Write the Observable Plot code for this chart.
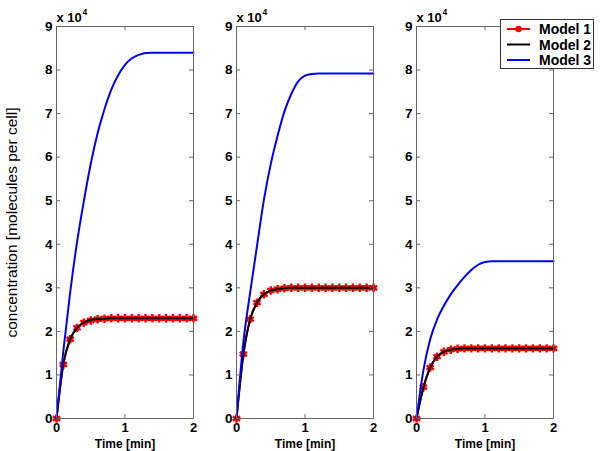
<!DOCTYPE html>
<html><head><meta charset="utf-8">
<script src="https://cdn.jsdelivr.net/npm/d3@7"></script>
<script src="https://cdn.jsdelivr.net/npm/@observablehq/plot@0.6"></script>
<style>
body{margin:0;background:#fff;}
#chart{position:relative;width:600px;height:451px;font-family:"Liberation Sans",Arial,Helvetica,sans-serif;background:#fff;overflow:hidden;}
.panel{position:absolute;top:0;}
#legend{position:absolute;left:500px;top:19px;}
</style></head><body><div id="chart"></div>
<script>
// Time points [min]
const time = [0,0.1,0.2,0.3,0.4,0.5,0.6,0.7,0.8,0.9,1.0,1.1,1.2,1.3,1.4,1.5,1.6,1.7,1.8,1.9,2.0];
const xTicks = [0,1,2];
const yTicks = [0,1,2,3,4,5,6,7,8,9];
const seriesNames = ["Model 1","Model 2","Model 3"];
const seriesColors = ["#ff0000","#000000","#0000ff"];

// concentrations in units of 10^4 molecules per cell
// Panel A
const m1A = [0,1.24,1.82,2.08,2.2,2.25,2.28,2.29,2.3,2.3,2.3,2.3,2.3,2.3,2.3,2.3,2.3,2.3,2.3,2.3,2.3];
const m2A = [0,1.26,1.82,2.08,2.2,2.26,2.28,2.29,2.3,2.3,2.3,2.3,2.3,2.3,2.3,2.3,2.3,2.3,2.3,2.3,2.3];
const m3A = [0,1.55,2.9,4.05,5.0,5.85,6.55,7.1,7.55,7.88,8.12,8.27,8.35,8.39,8.4,8.4,8.4,8.4,8.4,8.4,8.4];
// Panel B
const m1B = [0,1.48,2.28,2.66,2.85,2.94,2.97,2.99,3.0,3.0,3.0,3.0,3.0,3.0,3.0,3.0,3.0,3.0,3.0,3.0,3.0];
const m2B = [0,1.46,2.28,2.66,2.85,2.94,2.97,2.99,3.0,3.0,3.0,3.0,3.0,3.0,3.0,3.0,3.0,3.0,3.0,3.0,3.0];
const m3B = [0,1.75,2.9,3.97,5.02,5.84,6.49,7.05,7.45,7.74,7.87,7.91,7.92,7.92,7.92,7.92,7.92,7.92,7.92,7.92,7.92];
// Panel C
const m1C = [0,0.72,1.17,1.42,1.53,1.58,1.6,1.61,1.61,1.61,1.61,1.61,1.61,1.61,1.61,1.61,1.61,1.61,1.61,1.61,1.61];
const m2C = [0,0.7,1.17,1.42,1.53,1.58,1.6,1.61,1.61,1.61,1.61,1.61,1.61,1.61,1.61,1.61,1.61,1.61,1.61,1.61,1.61];
const m3C = [0,1.1,1.82,2.27,2.59,2.85,3.06,3.25,3.41,3.53,3.595,3.61,3.61,3.61,3.61,3.61,3.61,3.61,3.61,3.61,3.61];

const FONT = '"Liberation Sans",Arial,Helvetica,sans-serif';
const frameColor = "#666";
const rows = v => time.map((t,i) => ({t, v: v[i]}));

function panel(m1, m2, m3, {left, marginLeft, yLabel}) {
  const width = marginLeft + 137 + 1;
  const marks = [
    Plot.lineY(rows(m1), {x:"t", y:"v", stroke: seriesColors[0], strokeWidth: 2, curve: "monotone-x"}),
    Plot.dot(rows(m1), {x:"t", y:"v", r: 2.8, fill: seriesColors[0], stroke: "none"}),
    Plot.dot(rows(m1), {x:"t", y:"v", symbol:"asterisk", stroke: seriesColors[0], strokeWidth: 2.4, r: 4}),
    Plot.lineY(rows(m2), {x:"t", y:"v", stroke: seriesColors[1], strokeWidth: 2, curve: "monotone-x"}),
    Plot.lineY(rows(m3), {x:"t", y:"v", stroke: seriesColors[2], strokeWidth: 2, curve: "monotone-x"}),
    Plot.frame({stroke: frameColor}),
    Plot.tickY(yTicks, {stroke: frameColor, insetRight: 133}),
    Plot.tickY(yTicks, {stroke: frameColor, insetLeft: 133}),
    Plot.tickX(xTicks, {stroke: frameColor, insetTop: 388}),
    Plot.tickX(xTicks, {stroke: frameColor, insetBottom: 388}),
    Plot.axisY(yTicks, {tickSize: 0, tickPadding: 4, label: null, fontSize: 13.5}),
    Plot.axisX(xTicks, {tickSize: 0, tickPadding: 4, label: null, fontSize: 13}),
    Plot.text(["x 10"], {frameAnchor: "top-left", dx: 0, dy: -5, lineAnchor: "bottom", textAnchor: "start", fontSize: 13}),
    Plot.text(["4"], {frameAnchor: "top-left", dx: 26, dy: -12, lineAnchor: "bottom", textAnchor: "start", fontSize: 8.5}),
    Plot.text(["Time [min]"], {frameAnchor: "bottom", dy: 25.5, lineAnchor: "middle", fontSize: 12})
  ];
  if (yLabel) marks.push(Plot.text([yLabel], {frameAnchor: "left", textAnchor: "middle", rotate: -90, dx: -44, fontWeight: "normal", fontSize: 15.5}));
  const svg = Plot.plot({
    width, height: 451,
    marginLeft, marginRight: 1, marginTop: 26, marginBottom: 33,
    x: {domain: [0, 2], label: null},
    y: {domain: [0, 9], label: null},
    style: {fontFamily: FONT, fontSize: "13px", fontWeight: "bold", color: "#000", background: "transparent", overflow: "visible"},
    marks
  });
  svg.classList.add("panel");
  svg.style.left = left + "px";
  svg.style.position = "absolute";
  svg.style.top = "0px";
  return svg;
}

const chart = document.getElementById("chart");
chart.appendChild(panel(m1A, m2A, m3A, {left: 0, marginLeft: 56, yLabel: "concentration [molecules per cell]"}));
chart.appendChild(panel(m1B, m2B, m3B, {left: 194, marginLeft: 42}));
chart.appendChild(panel(m1C, m2C, m3C, {left: 374, marginLeft: 42}));

// Legend
const lg = d3.select(chart).append("svg").attr("id","legend").attr("width", 95).attr("height", 51)
  .style("font-family", FONT);
lg.append("rect").attr("x",0.5).attr("y",0.5).attr("width",93).attr("height",49).attr("fill","#fff").attr("stroke","#333");
seriesNames.forEach((name, i) => {
  const y = 10 + i * 15.5;
  lg.append("line").attr("x1",7).attr("x2",30).attr("y1",y).attr("y2",y).attr("stroke",seriesColors[i]).attr("stroke-width",2);
  if (i === 0) lg.append("circle").attr("cx",18.5).attr("cy",y).attr("r",3.2).attr("fill",seriesColors[0]);
  lg.append("text").attr("x",39).attr("y",y).attr("dy","0.36em").attr("font-size",14).attr("font-weight","bold").text(name);
});
</script>
</body></html>
